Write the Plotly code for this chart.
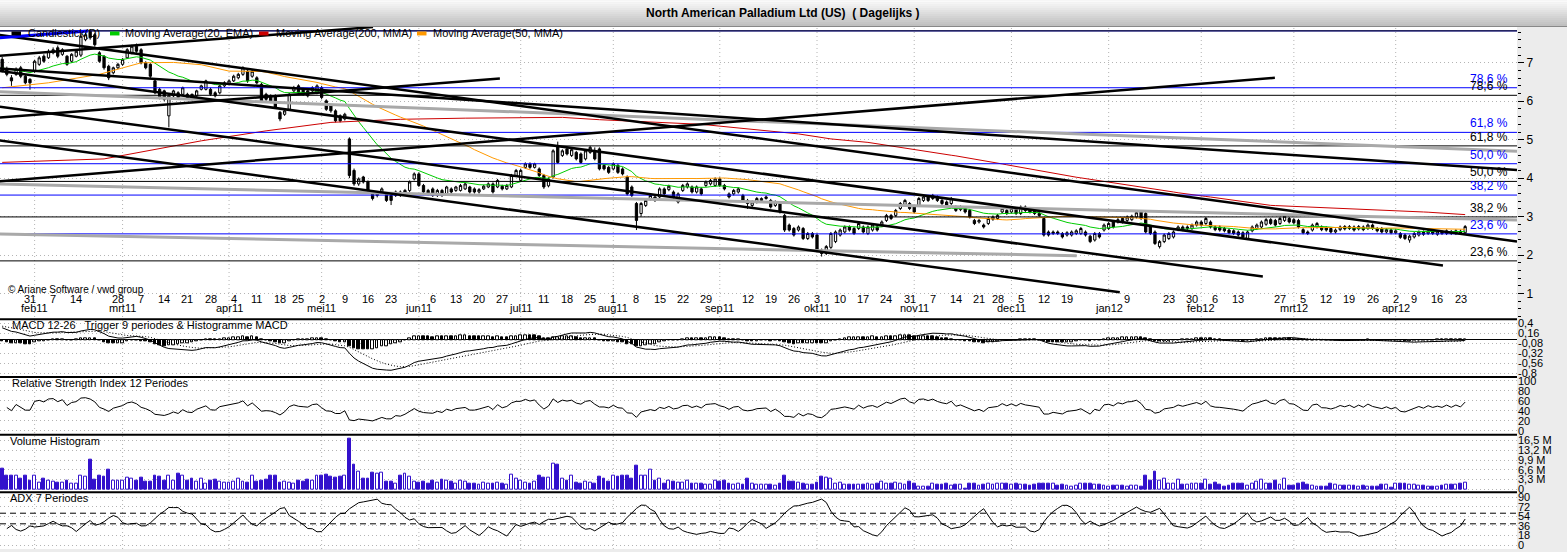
import numpy as np
import pandas as pd
import plotly.graph_objects as go
from plotly.subplots import make_subplots

# trading days shown on the chart (exchange holidays taken out)
holidays = ["2011-02-21", "2011-04-22", "2011-05-30", "2011-07-04", "2011-09-05",
            "2011-11-24", "2011-12-26", "2012-01-02", "2012-01-16", "2012-02-20",
            "2012-04-06"]
dates = pd.bdate_range("2011-01-21", "2012-04-24")
dates = dates[~dates.isin(pd.to_datetime(holidays))]

month_names = ["jan", "feb", "mrt", "apr", "mei", "jun", "jul", "aug", "sep", "okt", "nov", "dec"]

opens = [
    7.09, 6.83, 6.61, 6.70, 6.87, 6.65, 6.57, 6.78, 6.96, 7.17,
    7.13, 7.26, 7.39, 7.22, 7.17, 7.04, 7.17, 7.20, 7.60, 7.82,
    7.73, 7.26, 7.17, 6.91, 6.74, 6.87, 6.96, 7.13, 7.26, 7.43,
    7.34, 7.00, 6.96, 6.53, 6.31, 6.27, 5.62, 6.14, 6.22, 6.18,
    6.18, 6.18, 6.14, 6.31, 6.31, 6.31, 6.22, 6.22, 6.40, 6.44,
    6.53, 6.61, 6.70, 6.78, 6.65, 6.61, 6.44, 6.18, 6.14, 6.14,
    5.71, 5.66, 5.79, 6.27, 6.40, 6.31, 6.27, 6.27, 6.22, 6.35,
    6.01, 5.88, 5.75, 5.62, 5.54, 5.02, 4.20, 3.85, 4.03, 3.90,
    3.59, 3.55, 3.64, 3.59, 3.55, 3.55, 3.64, 3.59, 3.68, 3.98,
    4.11, 3.81, 3.68, 3.72, 3.55, 3.68, 3.59, 3.72, 3.68, 3.68,
    3.72, 3.77, 3.72, 3.64, 3.72, 3.77, 3.85, 3.77, 3.79, 3.72,
    3.77, 4.07, 3.94, 4.28, 4.37, 4.28, 4.24, 4.07, 3.80, 4.03,
    4.84, 4.59, 4.76, 4.59, 4.67, 4.63, 4.50, 4.67, 4.71, 4.76,
    4.33, 4.28, 4.24, 4.33, 4.24, 4.03, 3.77, 3.34, 3.08, 3.29,
    3.47, 3.51, 3.51, 3.72, 3.70, 3.64, 3.38, 3.68, 3.77, 3.77,
    3.64, 3.72, 3.81, 3.85, 3.81, 3.98, 3.81, 3.59, 3.59, 3.64,
    3.55, 3.42, 3.29, 3.38, 3.42, 3.47, 3.42, 3.29, 3.34, 3.03,
    2.78, 2.69, 2.65, 2.69, 2.43, 2.56, 2.52, 2.13, 2.04, 2.20,
    2.35, 2.52, 2.60, 2.73, 2.69, 2.69, 2.73, 2.56, 2.65, 2.73,
    2.78, 2.90, 3.03, 3.03, 3.21, 3.29, 3.34, 3.25, 3.29, 3.42,
    3.51, 3.47, 3.51, 3.42, 3.38, 3.34, 3.25, 3.18, 3.21, 3.16,
    2.90, 2.86, 2.78, 2.82, 2.93, 2.95, 3.12, 3.16, 3.12, 3.21,
    3.08, 3.25, 3.21, 3.16, 3.08, 2.95, 2.60, 2.56, 2.60, 2.56,
    2.52, 2.52, 2.56, 2.56, 2.60, 2.49, 2.39, 2.56, 2.65, 2.69,
    2.86, 2.86, 2.95, 2.90, 2.92, 2.99, 3.12, 3.08, 2.73, 2.60,
    2.22, 2.35, 2.43, 2.47, 2.66, 2.73, 2.69, 2.69, 2.78, 2.86,
    2.82, 2.86, 2.73, 2.73, 2.69, 2.65, 2.63, 2.60, 2.58, 2.43,
    2.63, 2.69, 2.73, 2.80, 2.92, 2.90, 2.82, 2.90, 2.95, 2.92,
    2.90, 2.66, 2.60, 2.65, 2.73, 2.73, 2.71, 2.69, 2.60, 2.66,
    2.74, 2.69, 2.73, 2.68, 2.73, 2.69, 2.78, 2.69, 2.69, 2.60,
    2.65, 2.58, 2.56, 2.52, 2.39, 2.47, 2.52, 2.60, 2.56, 2.63,
    2.54, 2.60, 2.56, 2.61, 2.56, 2.62, 2.58,
]
highs = [
    7.15, 6.90, 6.68, 6.88, 6.92, 6.70, 6.60, 7.08, 7.18, 7.22,
    7.35, 7.40, 7.45, 7.38, 7.20, 7.25, 7.34, 7.72, 7.78, 7.83,
    7.78, 7.30, 7.20, 6.95, 6.90, 7.00, 7.12, 7.38, 7.47, 7.50,
    7.38, 7.04, 6.99, 6.57, 6.35, 6.30, 6.18, 6.30, 6.26, 6.38,
    6.22, 6.20, 6.30, 6.43, 6.56, 6.35, 6.26, 6.43, 6.52, 6.57,
    6.69, 6.74, 6.91, 6.82, 6.82, 6.65, 6.48, 6.22, 6.18, 6.18,
    5.75, 5.79, 6.22, 6.40, 6.44, 6.35, 6.30, 6.39, 6.44, 6.40,
    6.05, 5.92, 5.79, 5.66, 5.70, 5.06, 4.25, 4.02, 4.06, 3.94,
    3.64, 3.65, 3.76, 3.63, 3.58, 3.68, 3.68, 3.72, 3.94, 4.15,
    4.15, 3.85, 3.72, 3.76, 3.72, 3.72, 3.80, 3.76, 3.80, 3.85,
    3.89, 3.80, 3.76, 3.74, 3.83, 3.89, 3.89, 3.98, 3.83, 3.85,
    4.11, 4.24, 4.24, 4.41, 4.41, 4.40, 4.28, 4.11, 4.02, 4.75,
    4.95, 4.75, 4.80, 4.78, 4.71, 4.67, 4.75, 4.84, 4.80, 4.80,
    4.37, 4.32, 4.41, 4.37, 4.28, 4.07, 3.81, 3.38, 3.38, 3.47,
    3.59, 3.55, 3.76, 3.76, 3.83, 3.68, 3.63, 3.85, 3.89, 3.81,
    3.81, 3.76, 3.94, 3.98, 4.02, 4.02, 3.85, 3.63, 3.72, 3.76,
    3.59, 3.46, 3.42, 3.51, 3.50, 3.55, 3.46, 3.42, 3.38, 3.07,
    2.82, 2.73, 2.77, 2.73, 2.60, 2.60, 2.56, 2.17, 2.26, 2.60,
    2.64, 2.69, 2.77, 2.77, 2.73, 2.86, 2.77, 2.77, 2.82, 2.77,
    2.90, 3.07, 3.07, 3.20, 3.38, 3.46, 3.38, 3.29, 3.51, 3.55,
    3.55, 3.59, 3.55, 3.46, 3.42, 3.51, 3.29, 3.29, 3.25, 3.20,
    2.94, 2.94, 2.82, 2.99, 3.03, 3.07, 3.25, 3.20, 3.25, 3.25,
    3.29, 3.29, 3.25, 3.20, 3.12, 2.99, 2.64, 2.64, 2.64, 2.60,
    2.62, 2.64, 2.67, 2.73, 2.64, 2.53, 2.60, 2.60, 2.82, 2.86,
    2.90, 2.96, 2.99, 3.03, 3.05, 3.14, 3.16, 3.12, 2.77, 2.64,
    2.39, 2.56, 2.60, 2.64, 2.77, 2.77, 2.77, 2.82, 2.90, 2.90,
    2.99, 2.90, 2.77, 2.77, 2.73, 2.69, 2.67, 2.64, 2.62, 2.64,
    2.77, 2.82, 2.90, 2.96, 2.96, 2.94, 2.99, 3.05, 2.99, 2.96,
    2.94, 2.70, 2.64, 2.82, 2.86, 2.77, 2.75, 2.73, 2.69, 2.77,
    2.78, 2.78, 2.77, 2.78, 2.77, 2.82, 2.82, 2.73, 2.73, 2.70,
    2.69, 2.67, 2.60, 2.56, 2.53, 2.60, 2.64, 2.64, 2.66, 2.67,
    2.64, 2.64, 2.67, 2.65, 2.67, 2.66, 2.78,
]
lows = [
    6.75, 6.65, 6.40, 6.66, 6.60, 6.44, 6.30, 6.74, 6.92, 7.00,
    7.10, 7.22, 7.12, 7.18, 6.92, 7.00, 7.14, 7.15, 7.56, 7.60,
    7.42, 7.00, 6.82, 6.55, 6.70, 6.84, 6.92, 7.10, 7.22, 7.26,
    6.96, 6.83, 6.60, 6.18, 6.05, 6.00, 5.32, 6.10, 6.06, 6.14,
    6.06, 6.02, 6.10, 6.28, 6.28, 6.14, 6.10, 6.18, 6.36, 6.41,
    6.50, 6.57, 6.66, 6.48, 6.61, 6.44, 5.96, 6.00, 5.96, 5.80,
    5.48, 5.62, 5.75, 6.22, 6.18, 6.14, 6.10, 6.24, 6.18, 6.05,
    5.75, 5.70, 5.45, 5.45, 5.50, 4.00, 3.80, 3.80, 3.86, 3.64,
    3.42, 3.50, 3.60, 3.38, 3.30, 3.51, 3.51, 3.55, 3.64, 3.94,
    3.77, 3.60, 3.55, 3.51, 3.51, 3.51, 3.55, 3.60, 3.64, 3.65,
    3.69, 3.60, 3.60, 3.60, 3.69, 3.74, 3.60, 3.74, 3.68, 3.69,
    3.74, 4.03, 3.90, 4.24, 4.24, 4.25, 4.03, 3.72, 3.76, 3.99,
    4.37, 4.55, 4.59, 4.55, 4.46, 4.37, 4.46, 4.63, 4.46, 4.20,
    4.20, 4.11, 4.20, 4.11, 4.07, 3.55, 3.51, 2.65, 3.00, 3.25,
    3.42, 3.38, 3.47, 3.55, 3.66, 3.47, 3.34, 3.64, 3.73, 3.60,
    3.60, 3.55, 3.77, 3.81, 3.77, 3.77, 3.68, 3.47, 3.55, 3.60,
    3.38, 3.20, 3.25, 3.34, 3.39, 3.44, 3.21, 3.25, 3.08, 2.60,
    2.61, 2.48, 2.61, 2.39, 2.39, 2.43, 2.09, 1.96, 2.00, 2.16,
    2.31, 2.48, 2.56, 2.61, 2.52, 2.65, 2.56, 2.52, 2.61, 2.61,
    2.74, 2.86, 2.91, 2.99, 3.17, 3.25, 3.17, 3.08, 3.25, 3.38,
    3.38, 3.43, 3.38, 3.30, 3.25, 3.30, 3.12, 3.14, 3.08, 2.95,
    2.78, 2.82, 2.69, 2.78, 2.89, 2.91, 3.08, 3.04, 3.08, 3.04,
    3.04, 3.12, 3.08, 3.04, 2.99, 2.48, 2.48, 2.52, 2.52, 2.43,
    2.48, 2.48, 2.52, 2.52, 2.48, 2.31, 2.35, 2.43, 2.61, 2.65,
    2.69, 2.82, 2.82, 2.86, 2.88, 2.95, 2.91, 2.56, 2.52, 2.26,
    2.17, 2.31, 2.39, 2.43, 2.62, 2.62, 2.65, 2.65, 2.74, 2.74,
    2.78, 2.69, 2.62, 2.61, 2.59, 2.54, 2.52, 2.48, 2.43, 2.39,
    2.59, 2.65, 2.69, 2.76, 2.78, 2.74, 2.78, 2.86, 2.82, 2.80,
    2.69, 2.54, 2.52, 2.61, 2.69, 2.62, 2.61, 2.56, 2.56, 2.62,
    2.64, 2.65, 2.61, 2.64, 2.62, 2.65, 2.65, 2.59, 2.56, 2.56,
    2.54, 2.54, 2.42, 2.39, 2.32, 2.43, 2.48, 2.50, 2.52, 2.52,
    2.50, 2.52, 2.52, 2.52, 2.52, 2.53, 2.54,
]
closes = [
    6.78, 6.70, 6.53, 6.83, 6.65, 6.48, 6.48, 7.04, 7.13, 7.04,
    7.30, 7.34, 7.17, 7.34, 6.96, 7.22, 7.30, 7.69, 7.73, 7.65,
    7.47, 7.04, 6.87, 6.61, 6.87, 6.96, 7.09, 7.34, 7.43, 7.30,
    7.00, 6.87, 6.65, 6.22, 6.10, 6.05, 6.14, 6.27, 6.10, 6.35,
    6.10, 6.05, 6.27, 6.40, 6.53, 6.18, 6.14, 6.40, 6.48, 6.53,
    6.65, 6.70, 6.87, 6.53, 6.78, 6.48, 6.01, 6.05, 6.01, 5.84,
    5.54, 5.75, 6.18, 6.35, 6.22, 6.18, 6.14, 6.35, 6.40, 6.10,
    5.79, 5.75, 5.49, 5.49, 5.66, 4.07, 3.85, 3.98, 3.90, 3.68,
    3.47, 3.60, 3.72, 3.42, 3.42, 3.64, 3.55, 3.68, 3.90, 4.11,
    3.81, 3.64, 3.59, 3.55, 3.68, 3.55, 3.77, 3.64, 3.77, 3.81,
    3.85, 3.64, 3.64, 3.70, 3.79, 3.85, 3.64, 3.94, 3.72, 3.81,
    4.07, 4.20, 4.20, 4.37, 4.28, 4.37, 4.07, 3.77, 3.98, 4.71,
    4.41, 4.71, 4.63, 4.74, 4.50, 4.41, 4.71, 4.80, 4.50, 4.24,
    4.24, 4.15, 4.37, 4.15, 4.11, 3.59, 3.55, 2.90, 3.34, 3.42,
    3.55, 3.42, 3.72, 3.59, 3.79, 3.51, 3.59, 3.81, 3.85, 3.64,
    3.77, 3.59, 3.90, 3.94, 3.98, 3.81, 3.72, 3.51, 3.68, 3.72,
    3.42, 3.34, 3.38, 3.47, 3.47, 3.51, 3.25, 3.38, 3.12, 2.65,
    2.65, 2.52, 2.73, 2.43, 2.56, 2.47, 2.13, 2.04, 2.22, 2.56,
    2.60, 2.65, 2.73, 2.65, 2.56, 2.82, 2.60, 2.73, 2.78, 2.65,
    2.86, 3.03, 2.95, 3.16, 3.34, 3.42, 3.21, 3.12, 3.47, 3.51,
    3.42, 3.55, 3.42, 3.34, 3.29, 3.47, 3.16, 3.25, 3.12, 2.99,
    2.82, 2.90, 2.73, 2.95, 2.99, 3.03, 3.21, 3.08, 3.21, 3.08,
    3.25, 3.16, 3.12, 3.08, 3.03, 2.52, 2.52, 2.60, 2.56, 2.47,
    2.58, 2.60, 2.63, 2.69, 2.52, 2.35, 2.56, 2.47, 2.78, 2.82,
    2.73, 2.92, 2.86, 2.99, 3.01, 3.10, 2.95, 2.60, 2.56, 2.30,
    2.35, 2.52, 2.56, 2.60, 2.73, 2.66, 2.73, 2.78, 2.86, 2.78,
    2.95, 2.73, 2.66, 2.65, 2.63, 2.58, 2.56, 2.52, 2.47, 2.60,
    2.73, 2.78, 2.86, 2.92, 2.82, 2.78, 2.95, 3.01, 2.86, 2.84,
    2.73, 2.58, 2.56, 2.78, 2.82, 2.66, 2.65, 2.60, 2.65, 2.73,
    2.68, 2.74, 2.65, 2.74, 2.66, 2.78, 2.69, 2.63, 2.60, 2.66,
    2.58, 2.63, 2.46, 2.43, 2.49, 2.56, 2.60, 2.54, 2.62, 2.56,
    2.60, 2.56, 2.63, 2.56, 2.63, 2.57, 2.74,
]
# volume in millions of shares
volume_m = [
    7.1, 4.8, 4.5, 4.8, 3.7, 4.5, 3.1, 4.8, 2.2, 3.7,
    3.1, 2.5, 2.2, 2.2, 3.1, 2.0, 2.0, 4.8, 4.2, 10.1,
    3.4, 4.8, 4.2, 6.7, 2.9, 2.9, 3.1, 4.0, 3.7, 3.1,
    4.0, 2.5, 2.5, 4.8, 4.2, 3.1, 4.5, 3.1, 5.4, 4.8,
    3.1, 3.7, 2.5, 3.7, 2.0, 3.1, 3.4, 2.5, 2.2, 2.2,
    2.5, 3.7, 2.5, 2.2, 4.8, 2.5, 3.1, 3.4, 4.5, 4.5,
    2.2, 2.5, 2.2, 2.0, 3.1, 2.5, 3.4, 2.9, 4.8, 4.5,
    5.0, 4.2, 3.8, 4.4, 4.8, 17.2, 8.2, 6.0, 3.7, 3.7,
    5.6, 5.4, 5.6, 2.5, 2.5, 2.0, 4.5, 5.4, 4.2, 2.5,
    2.2, 2.5, 2.0, 3.1, 2.2, 3.4, 3.1, 2.5, 2.0, 2.8,
    2.5, 2.0, 1.8, 1.5, 2.2, 2.0, 1.8, 2.2, 2.0, 1.5,
    5.1, 3.7, 3.1, 2.2, 2.0, 2.5, 4.5, 4.0, 4.0, 8.8,
    8.2, 3.7, 3.1, 4.5, 2.2, 2.0, 2.5, 2.2, 2.0, 4.2,
    3.7, 2.5, 4.5, 4.2, 4.8, 4.8, 3.7, 7.9, 4.8, 4.8,
    6.7, 3.1, 3.7, 2.0, 3.1, 2.5, 2.2, 2.2, 3.1, 2.0,
    1.8, 2.0, 1.5, 1.5, 3.1, 2.5, 3.1, 2.0, 1.5, 1.8,
    1.5, 3.5, 2.0, 1.5,
    1.5, 1.7, 1.5, 1.2, 2.0, 4.8, 2.6, 2.6, 2.2, 2.0,
    1.5, 1.5, 2.2, 4.3, 4.0, 3.7, 2.0, 2.2, 1.7, 1.7,
    1.7, 1.7, 1.5, 2.0, 1.7, 2.0, 2.6, 2.0, 2.0, 2.2,
    2.0, 1.5, 2.6, 2.0, 0.9, 0.9, 0.9, 2.0, 1.5, 1.5,
    2.0, 1.1, 1.5, 1.5, 0.3, 2.0, 2.0, 1.1, 1.5, 2.0,
    1.5, 1.8, 2.0, 2.0, 1.5, 1.8, 1.5, 1.5, 1.1, 1.5,
    2.0, 1.8, 1.8, 1.8, 1.1, 1.5, 1.1, 0.9, 1.1, 2.0,
    1.8, 1.8, 1.5, 1.5, 1.2, 0.9, 1.2, 1.2, 1.2, 0.9,
    1.2, 1.1, 0.9,
    4.5, 3.1, 6.0, 3.1, 3.5, 2.0, 2.0, 3.4, 1.5, 1.5,
    2.0, 1.8, 1.8, 3.4, 1.5, 2.2, 1.5, 0.9, 1.1, 1.8,
    1.8, 2.0, 1.1, 2.0, 2.6, 3.4, 2.0, 1.8, 2.8, 1.5,
    3.7, 1.2, 1.2, 2.0, 2.2, 1.7, 1.2, 0.9, 0.9, 0.9,
    2.0, 1.5, 1.2, 1.1, 1.2, 1.1, 0.9, 1.1, 0.9, 0.9,
    0.9, 1.5, 1.5, 0.7, 1.8, 1.8, 1.8, 1.5, 1.5, 1.2,
    1.2, 0.9, 0.9, 0.9, 1.2, 1.5, 1.5, 1.5, 1.8, 2.2,
]

# values of the averages before enough history is on screen
ma50_warm_idx = [0, 10, 21, 30, 37, 43]
ma50_warm = [6.35, 6.48, 6.70, 7.00, 7.01, 6.95]
ma200_warm_idx = [0, 22, 43, 57, 71, 86, 100, 112, 121, 129, 151, 172, 179, 187, 198]
ma200_warm = [4.41, 4.50, 4.97, 5.23, 5.45, 5.53, 5.56, 5.58, 5.58, 5.52, 5.40, 5.15, 5.02, 4.93, 4.72]
ema20_seed = 6.87
macd_seeds = (6.95, 6.62, 0.34)  # ema12, ema26, trigger
adx_seed = 34

# fibonacci retracements: common top, two different bottoms
fib_high = 7.83
fib_low_black = 0.0
fib_low_blue = 0.92
fib_ratios = [0.236, 0.382, 0.5, 0.618, 0.786, 1.0]

# drawn trend lines: (bar0, price0, bar1, price1)
trend_black = [
    (-0.5, 7.72, 327.2, 2.35),
    (-0.5, 6.79, 311.2, 1.73),
    (-0.5, 5.86, 272.3, 1.44),
    (-0.5, 4.98, 241.4, 1.03),
    (-0.5, 6.85, 327.2, 4.21),
    (-0.5, 7.18, 80.1, 7.93),
    (-0.5, 5.58, 107.5, 6.59),
    (-0.5, 3.92, 274.9, 6.61),
]
trend_gray = [
    (-0.5, 6.25, 327.2, 4.70),
    (-0.5, 3.85, 327.2, 2.91),
    (-0.5, 2.55, 232.1, 1.98),
]
trend_blue = [(-0.5, 7.65, 18.5, 7.83)]

W, H, TOP, RIGHT = 1567, 552, 27, 50
PLOT_W, PLOT_H = W - RIGHT, H - TOP


def py(y):
    return (H - y) / PLOT_H


def px(x):
    return x / PLOT_W


def ewm_seeded(values, seed, alpha):
    s = pd.Series([seed] + list(values), dtype=float)
    return s.ewm(alpha=alpha, adjust=False).mean().iloc[1:].to_numpy()


n = len(closes)
x = np.arange(n)
o = np.array(opens)
h = np.array(highs)
l = np.array(lows)
c = np.array(closes)

ema20 = ewm_seeded(c, ema20_seed, 2 / 21)
sma50 = pd.Series(c).rolling(50).mean().to_numpy()
sma200 = pd.Series(c).rolling(200).mean().to_numpy()
x50 = ma50_warm_idx + list(range(49, n))
y50 = ma50_warm + list(sma50[49:])
x200 = ma200_warm_idx + list(range(199, n))
y200 = ma200_warm + list(sma200[199:])

ema12 = ewm_seeded(c, macd_seeds[0], 2 / 13)
ema26 = ewm_seeded(c, macd_seeds[1], 2 / 27)
macd = ema12 - ema26
trigger = ewm_seeded(macd, macd_seeds[2], 2 / 10)
hist = macd - trigger
hist_fill = ["white" if i > 0 and hist[i] >= hist[i - 1] else "black" for i in range(n)]

delta = np.diff(c)
gain = ewm_seeded(np.clip(delta, 0, None), 0.05, 1 / 12)
loss = ewm_seeded(np.clip(-delta, 0, None), 0.05, 1 / 12)
rsi = 100 - 100 / (1 + gain / np.maximum(loss, 1e-9))

# ADX over 7 periods, exponential smoothing
a7 = 2 / 8
tr = np.maximum(h[1:] - l[1:], np.maximum(abs(h[1:] - c[:-1]), abs(l[1:] - c[:-1])))
up = h[1:] - h[:-1]
dn = l[:-1] - l[1:]
pdm = np.where((up > dn) & (up > 0), up, 0.0)
mdm = np.where((dn > up) & (dn > 0), dn, 0.0)
atr = ewm_seeded(tr, 0.22, a7)
pdi = 100 * ewm_seeded(pdm, 0.06, a7) / atr
mdi = 100 * ewm_seeded(mdm, 0.06, a7) / atr
dx = 100 * abs(pdi - mdi) / np.maximum(pdi + mdi, 1e-9)
adx = ewm_seeded(dx, adx_seed, a7)

vol_color = "#3311cc"
vol_fill = ["white" if c[i] >= o[i] else vol_color for i in range(n)]

fig = make_subplots(rows=5, cols=1, shared_xaxes=True, vertical_spacing=0)

fig.add_trace(go.Candlestick(
    x=x, open=opens, high=highs, low=lows, close=closes, whiskerwidth=0,
    increasing=dict(line=dict(color="black", width=1), fillcolor="white"),
    decreasing=dict(line=dict(color="black", width=1), fillcolor="black"),
), row=1, col=1)
fig.add_trace(go.Scatter(x=x, y=ema20, mode="lines", line=dict(color="#00cc00", width=1)), row=1, col=1)
fig.add_trace(go.Scatter(x=x200, y=y200, mode="lines", line=dict(color="#cc0000", width=1)), row=1, col=1)
fig.add_trace(go.Scatter(x=x50, y=y50, mode="lines", line=dict(color="#ff9900", width=1)), row=1, col=1)

fig.add_trace(go.Bar(x=x, y=hist, width=0.55, marker=dict(color=hist_fill, line=dict(color="black", width=1))), row=2, col=1)
fig.add_trace(go.Scatter(x=x, y=macd, mode="lines", line=dict(color="black", width=1)), row=2, col=1)
fig.add_trace(go.Scatter(x=x, y=trigger, mode="lines", line=dict(color="black", width=1, dash="1px,2px")), row=2, col=1)

fig.add_trace(go.Scatter(x=x[1:], y=rsi, mode="lines", line=dict(color="black", width=1)), row=3, col=1)

fig.add_trace(go.Bar(x=x, y=volume_m, width=0.62, marker=dict(color=vol_fill, line=dict(color=vol_color, width=1))), row=4, col=1)

fig.add_trace(go.Scatter(x=x[1:], y=adx, mode="lines", line=dict(color="black", width=1)), row=5, col=1)

font = "Liberation Sans, Arial, sans-serif"
dots = "1px,3px"
grid = "#b4b4b4"

fig.update_xaxes(range=[-0.475, 327.2], showgrid=False, showticklabels=False, zeroline=False,
                 ticks="", showline=False, rangeslider_visible=False)

common_y = dict(side="right", showgrid=True, gridcolor=grid, griddash=dots, gridwidth=1,
                zeroline=False, showline=False, tickfont=dict(family=font, size=11, color="black"))
fig.update_layout(
    yaxis=dict(common_y, domain=[py(321), 1.0], range=[0.328, 7.931], tickvals=list(range(1, 8)),
               ticks="outside", ticklen=6, tickcolor="black", tickfont=dict(family=font, size=12, color="black"),
               minor=dict(dtick=0.2, ticks="outside", ticklen=3, tickcolor="black", showgrid=False)),
    yaxis2=dict(common_y, domain=[py(379), py(321)], range=[-0.895, 0.496],
                tickvals=[0.4, 0.16, -0.08, -0.32, -0.56, -0.8],
                ticktext=["0,4", "0,16", "-0,08", "-0,32", "-0,56", "-0,8"], ticks="",
                zeroline=True, zerolinecolor="black", zerolinewidth=1),
    yaxis3=dict(common_y, domain=[py(437), py(379)], range=[-8, 108],
                tickvals=[0, 20, 40, 60, 80, 100], ticks=""),
    yaxis4=dict(common_y, domain=[py(495), py(437)], range=[-1.0, 18.5],
                tickvals=[0, 3.3, 6.6, 9.9, 13.2, 16.5],
                ticktext=["0", "3,3 M", "6,6 M", "9,9 M", "13,2 M", "16,5 M"], ticks=""),
    yaxis5=dict(common_y, domain=[0, py(495)], range=[-7.5, 99.4],
                tickvals=[0, 18, 36, 54, 72, 90], ticks=""),
)

shapes = []
ann = []


def label(text, xv, yv, xref="paper", yref="paper", xanchor="center", yanchor="middle", size=11, color="black"):
    ann.append(dict(x=xv, y=yv, xref=xref, yref=yref, xanchor=xanchor, yanchor=yanchor,
                    showarrow=False, text=text, font=dict(family=font, size=size, color=color)))


# month grid lines and date labels
for i in range(1, n):
    d = dates[i]
    if d.month != dates[i - 1].month:
        shapes.append(dict(type="line", xref="x", yref="paper", x0=i, x1=i, y0=0, y1=1,
                           line=dict(color=grid, width=1, dash=dots), layer="below"))
        label(f"{month_names[d.month - 1]}{d.year % 100:02d}", i, py(310), xref="x")
    if d.weekday() == 0 and i >= 3:
        label(str(d.day), i, py(301), xref="x")

# fibonacci levels (blue set first so the shared top line stays black)
for low, color in [(fib_low_blue, "#0000ff"), (fib_low_black, "black")]:
    for r in fib_ratios:
        level = low + r * (fib_high - low)
        shapes.append(dict(type="line", xref="paper", yref="y", x0=0, x1=1, y0=level, y1=level,
                           line=dict(color=color, width=1)))
        if r < 1:
            label(f"{r * 100:.1f} %".replace(".", ","), px(1510), level, yref="y",
                  xanchor="right", yanchor="bottom", size=12, color=color)

for x0, y0, x1, y1 in trend_gray:
    shapes.append(dict(type="line", xref="x", yref="y", x0=x0, y0=y0, x1=x1, y1=y1,
                       line=dict(color="#a9a9a9", width=3)))
for x0, y0, x1, y1 in trend_black:
    shapes.append(dict(type="line", xref="x", yref="y", x0=x0, y0=y0, x1=x1, y1=y1,
                       line=dict(color="black", width=2.5)))
for x0, y0, x1, y1 in trend_blue:
    shapes.append(dict(type="line", xref="x", yref="y", x0=x0, y0=y0, x1=x1, y1=y1,
                       line=dict(color="#0000ff", width=3)))

# ADX reference levels
for lvl in [40, 60]:
    shapes.append(dict(type="line", xref="paper", yref="y5", x0=0, x1=1, y0=lvl, y1=lvl,
                       line=dict(color="black", width=1, dash="6px,4px")))

# panel separators
for y in [321, 379, 437, 495]:
    shapes.append(dict(type="line", xref="paper", yref="paper", x0=0, x1=1, y0=py(y), y1=py(y),
                       line=dict(color="black", width=2)))

# title bar with a soft vertical gradient
strips = 13
for k in range(strips):
    g = int(round(250 - (250 - 192) * k / (strips - 1)))
    shapes.append(dict(type="rect", xref="paper", yref="paper", x0=0, x1=W / PLOT_W,
                       y0=py(2 * k + 2), y1=py(2 * k), line=dict(width=0),
                       fillcolor=f"rgb({g},{g},{g})", layer="above"))
shapes.append(dict(type="line", xref="paper", yref="paper", x0=0, x1=W / PLOT_W,
                   y0=py(26.5), y1=py(26.5), line=dict(color="#888888", width=1)))
label("<b>North American Palladium Ltd (US)\u00a0\u00a0( Dagelijks )</b>", px(783), py(13), size=12)

# legend of the price panel
legend_items = [
    ("Candlestick(D)", "black", 11.5, 26),
    ("Moving Average(20, EMA)", "#00cc00", 110, 123),
    ("Moving Average(200, MMA)", "#cc0000", 259, 274),
    ("Moving Average(50, MMA)", "#ff9900", 417, 431),
]
for text, color, sx, tx in legend_items:
    shapes.append(dict(type="rect", xref="paper", yref="paper", x0=px(sx), x1=px(sx + 9.5),
                       y0=py(35.5), y1=py(31.5), line=dict(width=0), fillcolor=color))
    label(text, px(tx), py(33.5), xanchor="left")

panel_titles = [
    ("MACD 12-26\u00a0\u00a0 Trigger 9 periodes & Histogramme MACD", 10, 327),
    ("Relative Strength Index 12 Periodes", 10, 385.5),
    ("Volume Histogram", 8, 443),
    ("ADX 7 Periodes", 8, 500.5),
]
for text, tx, ty in panel_titles:
    label(text, px(tx), py(ty), xanchor="left")
label("\u00a9 Ariane Software / vwd group", px(6), py(291), xanchor="left", size=10)

fig.update_layout(
    width=W, height=H, margin=dict(l=0, r=RIGHT, t=TOP, b=0),
    paper_bgcolor="#ececec", plot_bgcolor="white", showlegend=False,
    shapes=shapes, annotations=ann, bargap=0,
    font=dict(family=font, size=11, color="black"),
)

fig.write_html("out.html", config={"displayModeBar": False},
               post_script="document.body.style.margin='0';document.body.style.overflow='hidden';")
